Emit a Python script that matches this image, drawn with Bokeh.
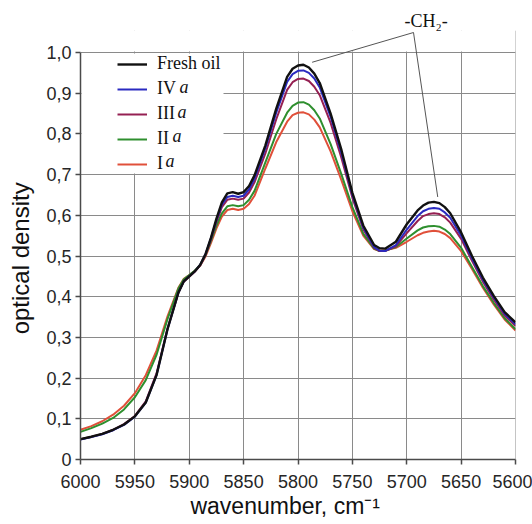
from bokeh.plotting import figure
from bokeh.models import (Range1d, FixedTicker, CustomJSTickFormatter, Legend, LegendItem,
                          Label, Arrow, BoxAnnotation, Span)
from bokeh.embed import file_html
from bokeh.resources import INLINE

# ---------------- data ----------------
wavenumber = [6000, 5990, 5980, 5970, 5960, 5950, 5940, 5930, 5920, 5910,
              5905, 5900, 5895, 5890, 5885, 5880, 5875, 5870, 5865, 5860,
              5855, 5850, 5845, 5840, 5830, 5820, 5810, 5805, 5800, 5795,
              5790, 5785, 5780, 5770, 5760, 5750, 5740, 5730, 5725, 5720,
              5710, 5700, 5690, 5685, 5680, 5675, 5670, 5665, 5660, 5650,
              5640, 5630, 5620, 5610, 5600]

fresh_oil = [0.050, 0.056, 0.063, 0.073, 0.086, 0.106, 0.140, 0.208, 0.320, 0.410,
             0.438, 0.450, 0.462, 0.478, 0.505, 0.545, 0.592, 0.632, 0.654, 0.657,
             0.653, 0.657, 0.672, 0.698, 0.772, 0.862, 0.940, 0.960, 0.968, 0.970,
             0.963, 0.948, 0.925, 0.850, 0.760, 0.655, 0.575, 0.527, 0.519, 0.518,
             0.535, 0.578, 0.612, 0.624, 0.631, 0.633, 0.630, 0.620, 0.605, 0.558,
             0.500, 0.447, 0.402, 0.362, 0.337]

iv_a = [0.049, 0.055, 0.062, 0.072, 0.085, 0.105, 0.140, 0.208, 0.320, 0.410,
        0.438, 0.450, 0.462, 0.478, 0.505, 0.544, 0.588, 0.626, 0.645, 0.648,
        0.645, 0.648, 0.664, 0.690, 0.765, 0.852, 0.928, 0.947, 0.955, 0.956,
        0.950, 0.936, 0.914, 0.842, 0.752, 0.650, 0.570, 0.522, 0.513, 0.512,
        0.527, 0.565, 0.598, 0.610, 0.616, 0.618, 0.616, 0.607, 0.594, 0.550,
        0.494, 0.442, 0.398, 0.358, 0.332]

iii_a = [0.050, 0.056, 0.063, 0.073, 0.087, 0.107, 0.143, 0.212, 0.322, 0.410,
         0.437, 0.449, 0.461, 0.477, 0.503, 0.541, 0.584, 0.620, 0.638, 0.641,
         0.638, 0.641, 0.656, 0.681, 0.752, 0.836, 0.908, 0.927, 0.935, 0.936,
         0.930, 0.916, 0.895, 0.827, 0.740, 0.643, 0.566, 0.520, 0.512, 0.512,
         0.524, 0.556, 0.586, 0.598, 0.603, 0.605, 0.603, 0.595, 0.582, 0.542,
         0.488, 0.437, 0.393, 0.354, 0.328]

ii_a = [0.068, 0.077, 0.088, 0.102, 0.123, 0.153, 0.195, 0.258, 0.345, 0.420,
        0.443, 0.453, 0.464, 0.478, 0.502, 0.537, 0.575, 0.605, 0.622, 0.625,
        0.622, 0.625, 0.638, 0.660, 0.730, 0.800, 0.852, 0.869, 0.877, 0.878,
        0.872, 0.858, 0.838, 0.775, 0.700, 0.620, 0.555, 0.518, 0.512, 0.513,
        0.522, 0.543, 0.563, 0.570, 0.573, 0.574, 0.572, 0.565, 0.554, 0.520,
        0.473, 0.426, 0.385, 0.347, 0.320]

i_a = [0.073, 0.082, 0.094, 0.110, 0.132, 0.163, 0.207, 0.268, 0.352, 0.422,
       0.444, 0.453, 0.463, 0.476, 0.499, 0.532, 0.568, 0.597, 0.613, 0.616,
       0.613, 0.616, 0.628, 0.648, 0.715, 0.780, 0.830, 0.846, 0.852, 0.853,
       0.848, 0.835, 0.816, 0.757, 0.686, 0.610, 0.550, 0.517, 0.513, 0.514,
       0.520, 0.535, 0.551, 0.557, 0.560, 0.562, 0.560, 0.554, 0.544, 0.512,
       0.468, 0.422, 0.381, 0.344, 0.317]

series_names = ["Fresh oil", "IV", "III", "II", "I"]
series_values = [fresh_oil, iv_a, iii_a, ii_a, i_a]
series_colors = ["#111111", "#2a2ac0", "#952052", "#2e8f2e", "#e0503a"]
series_widths = [2.4, 2.0, 2.0, 2.0, 2.0]

x_ticks = [6000, 5950, 5900, 5850, 5800, 5750, 5700, 5650, 5600]
y_ticks = [0.0, 0.1, 0.2, 0.3, 0.4, 0.5, 0.6, 0.7, 0.8, 0.9, 1.0]

# ---------------- layout helpers (page pixels -> data) ----------------
X0, X1, Y0, Y1 = 6000, 5600, 0.0, 1.0
FL, FR, P1, FB = 80, 515, 52, 459   # x edges, y=1.0 and y=0 positions in page pixels
FTOP = 30                           # frame extends above 1.0 to hold the leader lines


def px_x(px):
    return X0 + (px - FL) / (FR - FL) * (X1 - X0)


def py_y(py):
    return Y0 + (FB - py) / (FB - P1) * (Y1 - Y0)


SANS = "Liberation Sans"
SERIF = "Liberation Serif"
NBSP = "\u00a0"

p = figure(width=532, height=524, output_backend="svg", toolbar_location=None,
           x_range=Range1d(X0, X1), y_range=Range1d(Y0, py_y(FTOP)),
           min_border_left=FL, min_border_right=532 - FR, min_border_top=FTOP,
           min_border_bottom=524 - FB)

p.outline_line_color = None

# title carries the -CH2- annotation text
p.title.text = "-CH\u2082-"
p.title.text_font = SERIF
p.title.text_font_size = "18px"
p.title.text_font_style = "normal"
p.title.text_color = "#111111"
p.title.align = "left"
p.title.offset = 404 - FL
p.title.standoff = 0

# axes
for ax in (p.xaxis[0], p.yaxis[0]):
    ax.axis_line_color = "#4a4a4a"
    ax.axis_line_width = 1.5
    ax.major_tick_line_color = "#4a4a4a"
    ax.major_tick_line_width = 1.5
    ax.major_tick_out = 5
    ax.major_tick_in = 0
    ax.minor_tick_line_color = None
    ax.major_label_text_font = SANS
    ax.major_label_text_font_size = "18px"
    ax.major_label_text_color = "#262626"
    ax.axis_label_text_font = SANS
    ax.axis_label_text_font_style = "normal"
    ax.axis_label_text_color = "#111111"

p.yaxis.bounds = (Y0, Y1)
p.xaxis.ticker = FixedTicker(ticks=x_ticks)
p.yaxis.ticker = FixedTicker(ticks=y_ticks)
p.yaxis.formatter = CustomJSTickFormatter(
    code="return tick == 0 ? '0' : tick.toFixed(1).replace('.', ',');")
p.xaxis.major_label_standoff = 10
p.yaxis.major_label_standoff = 4
p.xaxis.axis_label = "wavenumber, cm\u207b\u00b9" + NBSP * 4
p.yaxis.axis_label = "optical density" + NBSP * 4
p.xaxis.axis_label_text_font_size = "23px"
p.yaxis.axis_label_text_font_size = "24px"
p.xaxis.axis_label_standoff = 2
p.yaxis.axis_label_standoff = 9

p.xgrid.ticker = FixedTicker(ticks=x_ticks)
p.ygrid.ticker = FixedTicker(ticks=y_ticks)
for g in (p.xgrid[0], p.ygrid[0]):
    g.grid_line_color = "#8a8a8a"
    g.grid_line_width = 1

# right border of the plot box
p.add_layout(Span(location=X1, dimension="height", line_color="#8a8a8a", line_width=1,
                  level="underlay"))
# blank strip above 1.0 (hides grid there)
p.add_layout(BoxAnnotation(left=X0, right=X1, bottom=py_y(P1 - 1), top=py_y(0),
                           fill_color="white", fill_alpha=1.0, line_color=None, level="underlay"))
# white legend background (hides the grid behind the key)
p.add_layout(BoxAnnotation(left=px_x(FL + 1), right=px_x(223), top=py_y(P1 + 1), bottom=py_y(173),
                           fill_color="white", fill_alpha=1.0, line_color=None, level="underlay"))

# curves: draw from lowest to highest (Ia first, Fresh oil on top)
renderers = {}
for name, vals, col, w in reversed(list(zip(series_names, series_values, series_colors, series_widths))):
    renderers[name] = p.line(wavenumber, vals, line_color=col, line_width=w)

legend = Legend(items=[LegendItem(label=n, renderers=[renderers[n]]) for n in series_names],
                location=(37, FB - (P1 + 1) - 116 - 5), orientation="vertical",
                padding=0, margin=0, spacing=4, glyph_width=30, glyph_height=20,
                label_height=20, label_standoff=10,
                label_text_font=SERIF, label_text_font_size="18px", label_text_color="#111111",
                border_line_color=None, background_fill_alpha=0.0)
p.add_layout(legend)

# italic "a" after the roman numerals
a_offsets = [99, 97, 92, 85]
row_centers = [86.5, 111, 135.5, 160]
for off, rc in zip(a_offsets, row_centers):
    p.add_layout(Label(x=px_x(FL + off), y=py_y(rc), text="a",
                       text_font=SERIF, text_font_style="italic",
                       text_font_size="18px", text_color="#111111",
                       text_align="left", text_baseline="middle"))

# -CH2- leader lines to the two peaks of the fresh oil spectrum
apex_x, apex_y = px_x(413), py_y(32)
i1 = fresh_oil.index(max(fresh_oil))
second = fresh_oil[wavenumber.index(5720):]
i2 = wavenumber.index(5720) + second.index(max(second))
targets = [(wavenumber[i1] - 8, fresh_oil[i1] + 0.006),
           (wavenumber[i2] - 3.5, fresh_oil[i2] + 0.012)]
for tx, ty in targets:
    p.add_layout(Arrow(end=None, x_start=apex_x, y_start=apex_y, x_end=tx, y_end=ty,
                       line_color="#555555", line_width=1))

open("out.html", "w").write(file_html(p, INLINE))
